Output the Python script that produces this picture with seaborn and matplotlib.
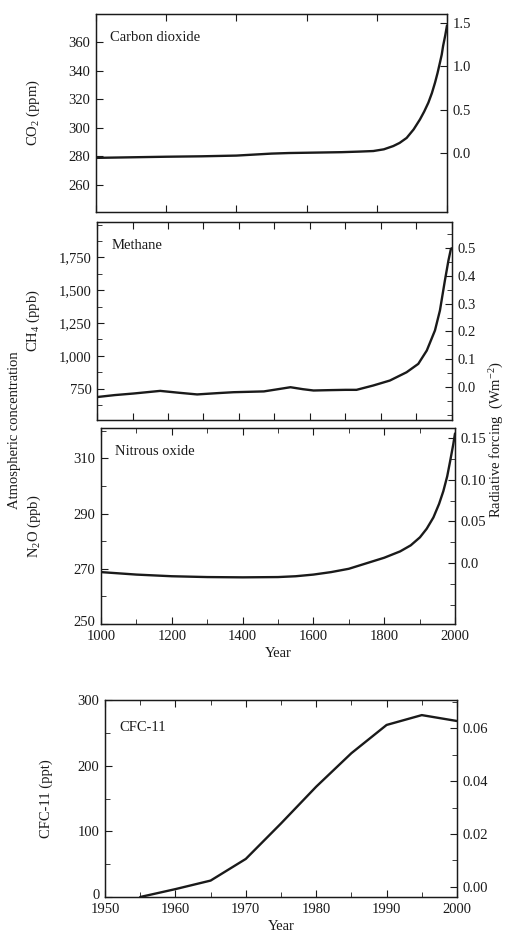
import numpy as np
import pandas as pd
import matplotlib
matplotlib.use("Agg")
import matplotlib.pyplot as plt
import matplotlib.transforms as mtransforms
from matplotlib.ticker import MultipleLocator, FixedLocator, FuncFormatter
import seaborn as sns

# ---------------- data ----------------
co2_years = [1000, 1100, 1200, 1300, 1400, 1450, 1500, 1550, 1600, 1700, 1750, 1790, 1820, 1847, 1865,
             1885, 1905, 1923, 1935, 1947, 1957, 1966, 1973, 1980, 1985, 1989, 1995, 2000]
co2_ppm = [279, 279.4, 279.8, 280.1, 280.6, 281.3, 282, 282.4, 282.6, 283, 283.4, 283.8, 285, 287.3, 289.5,
           293, 299, 306, 311.5, 317.8, 324.5, 331.9, 338.5, 346, 351.5, 357.7, 365, 372]

ch4_years = [1000, 1050, 1103, 1178, 1230, 1282, 1340, 1385, 1470, 1510, 1545, 1580, 1610, 1660, 1700,
             1731, 1778, 1825, 1872, 1905, 1929, 1952, 1966, 1980, 1990, 1997, 2000]
ch4_ppb = [685, 700, 712, 732, 718, 705, 715, 722, 728, 745, 760, 745, 735, 738, 740,
           740, 773, 811, 874, 938, 1040, 1193, 1345, 1574, 1727, 1816, 1820]

n2o_years = [1000, 1100, 1200, 1300, 1400, 1500, 1550, 1600, 1650, 1700, 1750, 1800, 1845, 1875, 1901,
             1920, 1939, 1955, 1967, 1978, 1986, 1995, 2000]
n2o_ppb = [268.8, 267.9, 267.3, 267.0, 266.9, 267.0, 267.3, 267.9, 268.8, 270.0, 272.0, 274.0, 276.3, 278.5, 281.4,
           284.5, 288.6, 293.5, 298.1, 303.5, 308.8, 315, 319]

cfc_years = [1955, 1960, 1965, 1970, 1975, 1980, 1985, 1990, 1995, 2000]
cfc_ppt = [0, 12, 25, 58, 112, 168, 219, 262, 277, 268]

panel_names = ["Carbon dioxide", "Methane", "Nitrous oxide", "CFC-11"]
left_labels = ["CO$_2$ (ppm)", "CH$_4$ (ppb)", "N$_2$O (ppb)", "CFC-11 (ppt)"]

co2_ticks = [260, 280, 300, 320, 340, 360]
co2_rf_ticks = [0.0, 0.5, 1.0, 1.5]
ch4_ticks = [750, 1000, 1250, 1500, 1750]
ch4_rf_ticks = [0.0, 0.1, 0.2, 0.3, 0.4, 0.5]
n2o_ticks = [250, 270, 290, 310]
n2o_rf_ticks = [0.0, 0.05, 0.10, 0.15]
cfc_ticks = [0, 100, 200, 300]
cfc_rf_ticks = [0.00, 0.02, 0.04, 0.06]

# ---------------- style ----------------
sns.set_style("ticks")
plt.rcParams["font.family"] = ["Liberation Serif", "DejaVu Serif"]
plt.rcParams["mathtext.fontset"] = "custom"
plt.rcParams["mathtext.rm"] = "Liberation Serif"
plt.rcParams["mathtext.it"] = "Liberation Serif:italic"
plt.rcParams["font.size"] = 10.5
plt.rcParams["axes.linewidth"] = 0.9
plt.rcParams["axes.edgecolor"] = "#222222"

W, H = 506, 936
fig = plt.figure(figsize=(W / 100, H / 100), dpi=100)

def rect(l, t, r, b):
    return [l / W, 1 - b / H, (r - l) / W, (b - t) / H]

ink = "#1a1a1a"

def style_axis(ax, right=False):
    ax.tick_params(direction="in", which="both", top=True, bottom=True,
                   left=not right, right=right, colors=ink, labelcolor=ink,
                   labelsize=10.5, pad=4)
    ax.tick_params(which="major", length=5)
    ax.tick_params(which="minor", length=3.5)
    for s in ax.spines.values():
        s.set_visible(True)
        s.set_color(ink)

def sfmt(x, pos):
    return f"{int(round(x)):,}"

# ---------- CO2 ----------
ax1 = fig.add_axes(rect(96, 14, 447, 212))
sns.lineplot(data=pd.DataFrame({"Year": co2_years, "v": co2_ppm}), x="Year", y="v",
             ax=ax1, color=ink, lw=1.7)
ax1.set_xlim(1000, 2000)
ax1.set_ylim(241, 380)
ax1.yaxis.set_major_locator(FixedLocator(co2_ticks))
ax1.xaxis.set_major_locator(MultipleLocator(200))
ax1.set_xticklabels([])
ax1.set_xlabel("")
style_axis(ax1)
ax1b = ax1.twinx()
ax1b.set_ylim(-0.68, 1.60)
ax1b.yaxis.set_major_locator(FixedLocator(co2_rf_ticks))
ax1b.yaxis.set_major_formatter(FuncFormatter(lambda x, p: f"{x:.1f}"))
style_axis(ax1b, right=True)

# ---------- CH4 ----------
ax2 = fig.add_axes(rect(97, 222, 452, 420))
sns.lineplot(data=pd.DataFrame({"Year": ch4_years, "v": ch4_ppb}), x="Year", y="v",
             ax=ax2, color=ink, lw=1.7)
ax2.set_xlim(1000, 2000)
ax2.set_ylim(510, 2020)
ax2.yaxis.set_major_locator(FixedLocator(ch4_ticks))
ax2.yaxis.set_minor_locator(MultipleLocator(125))
ax2.yaxis.set_major_formatter(FuncFormatter(sfmt))
ax2.xaxis.set_major_locator(MultipleLocator(100))
ax2.set_xticklabels([])
ax2.set_xlabel("")
style_axis(ax2)
ax2b = ax2.twinx()
ax2b.set_ylim(-0.119, 0.594)
ax2b.yaxis.set_major_locator(FixedLocator(ch4_rf_ticks))
ax2b.yaxis.set_minor_locator(MultipleLocator(0.05))
ax2b.yaxis.set_major_formatter(FuncFormatter(lambda x, p: f"{x:.1f}"))
style_axis(ax2b, right=True)

# ---------- N2O ----------
ax3 = fig.add_axes(rect(101, 428, 455, 624))
sns.lineplot(data=pd.DataFrame({"Year": n2o_years, "v": n2o_ppb}), x="Year", y="v",
             ax=ax3, color=ink, lw=1.7)
ax3.set_xlim(1000, 2000)
ax3.set_ylim(250, 321)
ax3.yaxis.set_major_locator(FixedLocator(n2o_ticks))
ax3.yaxis.set_minor_locator(MultipleLocator(10))
ax3.xaxis.set_major_locator(MultipleLocator(200))
ax3.xaxis.set_minor_locator(MultipleLocator(100))
ax3.set_xlabel("Year", fontsize=10.5, color=ink, labelpad=3)
style_axis(ax3)
ax3b = ax3.twinx()
ax3b.set_ylim(-0.073, 0.162)
ax3b.yaxis.set_major_locator(FixedLocator(n2o_rf_ticks))
ax3b.yaxis.set_minor_locator(MultipleLocator(0.025))
ax3b.yaxis.set_major_formatter(FuncFormatter(lambda x, p: "0.0" if abs(x) < 1e-9 else f"{x:.2f}"))
style_axis(ax3b, right=True)

# ---------- CFC-11 ----------
ax4 = fig.add_axes(rect(105, 700, 457, 897))
sns.lineplot(data=pd.DataFrame({"Year": cfc_years, "v": cfc_ppt}), x="Year", y="v",
             ax=ax4, color=ink, lw=1.7)
ax4.set_xlim(1950, 2000)
ax4.set_ylim(0, 300)
ax4.yaxis.set_major_locator(FixedLocator(cfc_ticks))
ax4.yaxis.set_minor_locator(MultipleLocator(50))
ax4.xaxis.set_major_locator(MultipleLocator(10))
ax4.xaxis.set_minor_locator(MultipleLocator(5))
ax4.set_xlabel("Year", fontsize=10.5, color=ink, labelpad=3)
style_axis(ax4)
ax4b = ax4.twinx()
ax4b.set_ylim(-0.0038, 0.0706)
ax4b.yaxis.set_major_locator(FixedLocator(cfc_rf_ticks))
ax4b.yaxis.set_minor_locator(MultipleLocator(0.01))
ax4b.yaxis.set_major_formatter(FuncFormatter(lambda x, p: f"{x:.2f}"))
style_axis(ax4b, right=True)

axes = [ax1, ax2, ax3, ax4]
label_x_px = [42, 42, 43, 53]
for ax, name, lab, lx in zip(axes, panel_names, left_labels, label_x_px):
    ax.text(0.04, 0.88 if ax is not ax4 else 0.86, name, transform=ax.transAxes,
            fontsize=10.5, color=ink, va="center", ha="left")
    ax.set_ylabel(lab, fontsize=10.5, color=ink)
    bb = ax.get_position()
    ax.yaxis.set_label_coords((lx / W - bb.x0) / bb.width, 0.5)

# lift the lowest y tick labels a little so they clear the year labels
for ax in (ax3, ax4):
    t0 = ax.yaxis.get_major_ticks()[0]
    t0.label1.set_transform(t0.label1.get_transform() +
                            mtransforms.ScaledTranslation(0, 3 / 100, fig.dpi_scale_trans))

fig.text(15 / W, 1 - 430 / H, "Atmospheric concentration", rotation=90,
         ha="center", va="center", fontsize=10.5, color=ink)
fig.text(497 / W, 1 - 440 / H, "Radiative forcing  (Wm$^{-2}$)", rotation=90,
         ha="center", va="center", fontsize=10.5, color=ink)

fig.savefig("out.png", dpi=100, facecolor="white")
